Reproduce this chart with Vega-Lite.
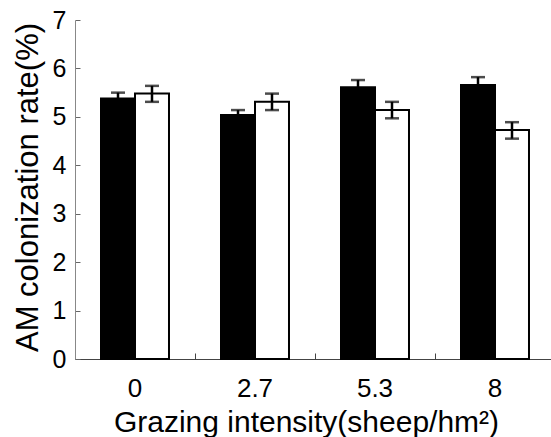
{
  "$schema": "https://vega.github.io/schema/vega-lite/v6.json",
  "width": 476,
  "height": 339,
  "autosize": "none",
  "padding": {"left": 75, "top": 20, "right": 0, "bottom": 78},
  "background": "white",
  "config": {
    "view": {"stroke": null},
    "font": "Liberation Sans",
    "axisY": {
      "values": [0, 1, 2, 3, 4, 5, 6, 7],
      "tickSize": -5,
      "labelPadding": 14,
      "labelFontSize": 25,
      "labelColor": "black",
      "titleFontSize": 31,
      "titleFontWeight": "normal",
      "titleColor": "black",
      "titleX": -38,
      "titleY": 167,
      "titleAngle": -90,
      "titleBaseline": "alphabetic",
      "titleAlign": "center",
      "domainColor": "#888",
      "tickColor": "#666",
      "grid": false
    },
    "axisX": {
      "bandPosition": 0,
      "tickSize": -6,
      "labelPadding": 22,
      "labelAngle": 0,
      "labelFontSize": 26,
      "labelColor": "black",
      "titleFontSize": 30,
      "titleFontWeight": "normal",
      "titleColor": "black",
      "titleX": 231,
      "titleY": 72,
      "titleBaseline": "alphabetic",
      "titleAlign": "center",
      "domainColor": "#444",
      "tickColor": "#444",
      "grid": false
    }
  },
  "data": {"values": [
    {"grazing": "0", "series": "S1", "rate": 5.38, "lo": 5.26, "hi": 5.50},
    {"grazing": "0", "series": "S2", "rate": 5.48, "lo": 5.31, "hi": 5.64},
    {"grazing": "2.7", "series": "S1", "rate": 5.04, "lo": 4.94, "hi": 5.14},
    {"grazing": "2.7", "series": "S2", "rate": 5.31, "lo": 5.14, "hi": 5.48},
    {"grazing": "5.3", "series": "S1", "rate": 5.61, "lo": 5.46, "hi": 5.76},
    {"grazing": "5.3", "series": "S2", "rate": 5.14, "lo": 4.97, "hi": 5.31},
    {"grazing": "8", "series": "S1", "rate": 5.66, "lo": 5.50, "hi": 5.82},
    {"grazing": "8", "series": "S2", "rate": 4.73, "lo": 4.55, "hi": 4.89}
  ]},
  "encoding": {
    "x": {
      "field": "grazing", "type": "nominal", "sort": ["0", "2.7", "5.3", "8"],
      "title": "Grazing intensity(sheep/hm²)",
      "scale": {"range": [0, 480], "paddingInner": 0, "paddingOuter": 0}
    },
    "xOffset": {
      "field": "series", "type": "nominal", "sort": ["S1", "S2"],
      "scale": {"paddingInner": 0, "paddingOuter": 0.765}
    }
  },
  "layer": [
    {
      "mark": {"type": "bar", "stroke": "black", "strokeWidth": 2},
      "encoding": {
        "y": {
          "field": "rate", "type": "quantitative",
          "title": "AM colonization rate(%)",
          "scale": {"domain": [0, 7], "nice": false}
        },
        "fill": {
          "field": "series", "type": "nominal",
          "scale": {"domain": ["S1", "S2"], "range": ["#000000", "#ffffff"]},
          "legend": null
        }
      }
    },
    {
      "mark": {"type": "rule", "strokeWidth": 2.5, "color": "black"},
      "encoding": {
        "y": {"field": "lo", "type": "quantitative", "title": "AM colonization rate(%)"},
        "y2": {"field": "hi"}
      }
    },
    {
      "mark": {"type": "tick", "thickness": 2.5, "size": 14, "color": "black", "orient": "horizontal"},
      "encoding": {"y": {"field": "hi", "type": "quantitative", "title": "AM colonization rate(%)"}}
    },
    {
      "mark": {"type": "tick", "thickness": 2.5, "size": 14, "color": "black", "orient": "horizontal"},
      "encoding": {"y": {"field": "lo", "type": "quantitative", "title": "AM colonization rate(%)"}}
    }
  ]
}
